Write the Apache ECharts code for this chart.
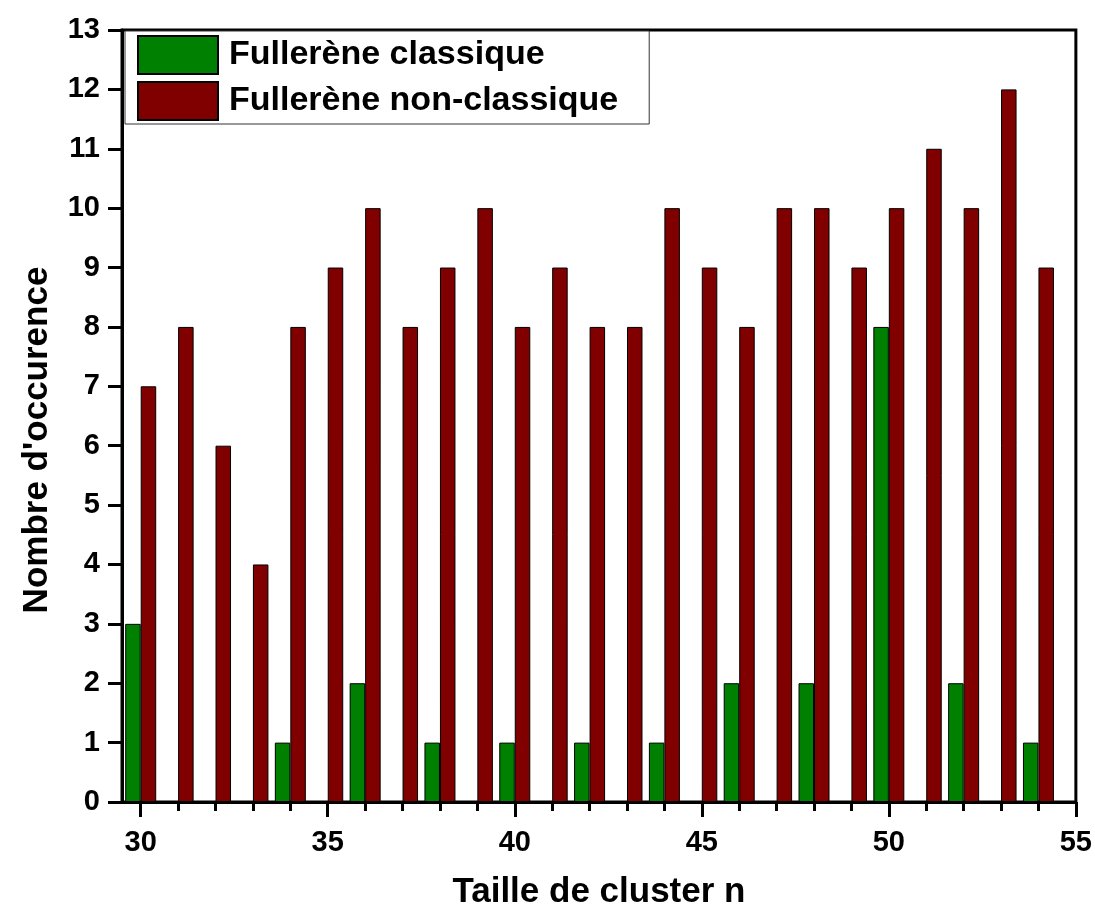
<!DOCTYPE html>
<html>
<head>
<meta charset="utf-8">
<script src="https://cdn.jsdelivr.net/npm/echarts@6/dist/echarts.min.js"></script>
<style>
html,body{margin:0;padding:0;background:#fff;}
#chart{width:1095px;height:915px;}
</style>
</head>
<body>
<div id="chart"></div>
<script>
const clusterSizes = [30,31,32,33,34,35,36,37,38,39,40,41,42,43,44,45,46,47,48,49,50,51,52,53,54];
const classique = [3,0,0,0,1,0,2,0,1,0,1,0,1,0,1,0,2,0,2,0,8,0,2,0,1];
const nonClassique = [7,8,6,4,8,9,10,8,9,10,8,9,8,8,10,9,8,10,10,9,10,11,10,12,9];
const xMajorTicks = [30,35,40,45,50,55];
const xMinorTicks = [30,31,32,33,34,35,36,37,38,39,40,41,42,43,44,45,46,47,48,49,50,51,52,53,54,55];
const seriesNames = ['Fullerène classique', 'Fullerène non-classique'];
const xTitle = 'Taille de cluster n';
const yTitle = "Nombre d'occurence";

const FONT = '"Liberation Sans", Arial, sans-serif';
const chart = echarts.init(document.getElementById('chart'), null, {renderer: 'canvas'});

const option = {
  animation: false,
  backgroundColor: '#fff',
  textStyle: {fontFamily: FONT},
  grid: {left: 122, right: 18, top: 30, bottom: 112, show: true, borderColor: '#000', borderWidth: 3, backgroundColor: 'transparent'},
  legend: {
    left: 125, top: 31,
    orient: 'vertical',
    itemWidth: 80, itemHeight: 38, itemGap: 6,
    padding: [4, 31, 3, 12],
    backgroundColor: '#fff',
    borderColor: '#333', borderWidth: 1,
    icon: 'rect',
    textStyle: {fontFamily: FONT, fontWeight: 'bold', fontSize: 34, lineHeight: 38, color: '#000', padding: [0, 0, 0, 6]},
    data: seriesNames
  },
  xAxis: [{
    type: 'value', min: 29.5, max: 55,
    name: xTitle, nameLocation: 'middle', nameGap: 73,
    nameTextStyle: {fontFamily: FONT, fontWeight: 'bold', fontSize: 35, color: '#000'},
    axisLine: {show: true, lineStyle: {color: '#000', width: 3}},
    axisTick: {show: true, inside: false, length: 15, lineStyle: {color: '#000', width: 3}, customValues: xMajorTicks},
    axisLabel: {show: true, margin: 26, fontFamily: FONT, fontWeight: 'bold', fontSize: 29, color: '#000', customValues: xMajorTicks},
    splitLine: {show: false}
  }, {
    type: 'value', min: 29.5, max: 55, position: 'bottom',
    axisLine: {show: false},
    axisTick: {show: true, inside: false, length: 9, lineStyle: {color: '#000', width: 3}, customValues: xMinorTicks},
    axisLabel: {show: false},
    splitLine: {show: false}
  }],
  yAxis: {
    type: 'value', min: 0, max: 13, interval: 1,
    axisLine: {show: true, lineStyle: {color: '#000', width: 3}},
    axisTick: {show: true, inside: false, length: 14, lineStyle: {color: '#000', width: 3}},
    axisLabel: {margin: 22, fontFamily: FONT, fontWeight: 'bold', fontSize: 29, color: '#000'},
    splitLine: {show: false}
  },
  graphic: [{
    type: 'text', x: 37, y: 440, rotation: Math.PI / 2,
    style: {text: yTitle, font: 'bold 35px ' + FONT, fill: '#000', align: 'center', verticalAlign: 'middle'}
  }],
  series: [{
    name: seriesNames[0], type: 'bar', xAxisIndex: 0,
    barWidth: 15.5, barGap: '0%',
    itemStyle: {color: '#008000', borderColor: '#000', borderWidth: 1},
    data: clusterSizes.map((n, i) => [n, classique[i]])
  }, {
    name: seriesNames[1], type: 'bar', xAxisIndex: 0,
    barWidth: 15.5, barGap: '0%',
    itemStyle: {color: '#800000', borderColor: '#000', borderWidth: 1},
    data: clusterSizes.map((n, i) => [n, nonClassique[i]])
  }]
};
chart.setOption(option);
</script>
</body>
</html>
